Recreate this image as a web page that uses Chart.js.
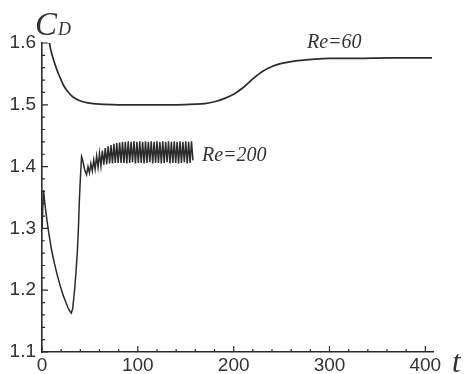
<!DOCTYPE html>
<html>
<head>
<meta charset="utf-8">
<script src="https://cdn.jsdelivr.net/npm/chart.js@4"></script>
<style>
  body { margin: 0; background: #fff; }
  #wrap { width: 465px; height: 374px; }
</style>
</head>
<body>
<div id="wrap"><canvas id="cdChart" width="465" height="374"></canvas></div>
<script>
// Re=60 curve (time, drag coefficient)
const re60T = [0, 7.5, 9, 11, 13, 15, 17.5, 20, 23, 27, 32, 39, 48, 60, 80, 100, 120, 140, 160, 170, 180, 190, 200, 210, 220, 230, 240, 250, 260, 270, 285, 300, 330, 360, 390, 407];
const re60C = [1.62, 1.600, 1.590, 1.578, 1.568, 1.559, 1.549, 1.540, 1.530, 1.521, 1.513, 1.507, 1.503, 1.501, 1.500, 1.500, 1.500, 1.500, 1.501, 1.502, 1.505, 1.510, 1.517, 1.528, 1.542, 1.554, 1.562, 1.567, 1.570, 1.572, 1.574, 1.575, 1.575, 1.576, 1.576, 1.576];

// Re=200 curve (time, drag coefficient)
const re200T = [0, 1.5, 3, 5, 7, 10, 13, 16, 19, 22, 25, 27, 29, 30.5, 32, 34, 35.5, 37, 38, 39, 40, 41.3, 42.5, 44.5,
  46.5, 48, 49.5, 51, 52.5, 54, 55.5, 57, 58.5, 60, 61.5, 63, 64.5, 66, 67.5, 69, 70.5, 72, 73.5, 75, 76.5, 78, 79.5, 81, 82.5, 84,
  85.5, 87, 88.5, 90, 91.5, 93, 94.5, 96, 97.5, 99, 100.5, 102, 103.5, 105, 106.5, 108, 109.5, 111, 112.5, 114, 115.5, 117,
  118.5, 120, 121.5, 123, 124.5, 126, 127.5, 129, 130.5, 132, 133.5, 135, 136.5, 138, 139.5, 141, 142.5, 144, 145.5, 147,
  148.5, 150, 151.5, 153, 154.5, 156, 157.5];
const re200C = [1.300, 1.362, 1.340, 1.315, 1.293, 1.265, 1.243, 1.224, 1.207, 1.192, 1.180, 1.172, 1.166, 1.163, 1.170, 1.200, 1.230, 1.265, 1.300, 1.346, 1.380, 1.416, 1.410, 1.395,
  1.387, 1.400, 1.390, 1.405, 1.393, 1.411, 1.396, 1.417, 1.399, 1.422, 1.401, 1.426, 1.403, 1.430, 1.404, 1.433, 1.405, 1.435, 1.405, 1.437, 1.406, 1.438, 1.406, 1.439, 1.406, 1.440,
  1.406, 1.440, 1.405, 1.441, 1.406, 1.440, 1.407, 1.441, 1.405, 1.440, 1.406, 1.441, 1.406, 1.440, 1.405, 1.441, 1.406, 1.440, 1.407, 1.441, 1.405, 1.440,
  1.406, 1.441, 1.406, 1.440, 1.405, 1.441, 1.406, 1.440, 1.407, 1.441, 1.405, 1.440, 1.406, 1.441, 1.406, 1.440, 1.405, 1.441, 1.406, 1.440,
  1.407, 1.441, 1.405, 1.440, 1.406, 1.441, 1.410];

// Axis ticks
const xTicks = [0, 100, 200, 300, 400];
const yTicks = [1.1, 1.2, 1.3, 1.4, 1.5, 1.6];

const ink = '#2b2b2b';
const serif = '"Liberation Serif", "DejaVu Serif", serif';

function toPoints(ts, cs) {
    return ts.map((t, i) => ({ x: t, y: cs[i] }));
}

// inward tick marks + annotations
const decorPlugin = {
    id: 'decor',
    afterDatasetsDraw(chart) {
        const ctx = chart.ctx;
        const xs = chart.scales.x;
        const ys = chart.scales.y;
        const area = chart.chartArea;
        ctx.save();
        ctx.strokeStyle = ink;
        ctx.lineWidth = 1.2;
        ctx.beginPath();
        // y ticks every 0.02
        for (let i = 0; i <= 25; i++) {
            const v = 1.1 + i * 0.02;
            const py = ys.getPixelForValue(v);
            const len = (i % 5 === 0) ? 6 : 3;
            ctx.moveTo(area.left, py);
            ctx.lineTo(area.left + len, py);
        }
        // x ticks every 20
        for (let i = 0; i <= 20; i++) {
            const px = xs.getPixelForValue(i * 20);
            const len = (i % 5 === 0) ? 6 : 3;
            ctx.moveTo(px, area.bottom);
            ctx.lineTo(px, area.bottom - len);
        }
        ctx.stroke();

        // labels
        ctx.fillStyle = '#333';
        ctx.textBaseline = 'alphabetic';
        ctx.textAlign = 'left';
        ctx.font = 'italic 33px ' + serif;
        ctx.fillText('C', 35, 35);
        ctx.font = 'italic 18px ' + serif;
        ctx.fillText('D', 58, 35);
        ctx.font = 'italic 31px ' + serif;
        ctx.fillText('t', 452, 372);
        ctx.font = 'italic 20px ' + serif;
        ctx.fillText('Re=60', 307, 48);
        ctx.fillText('Re=200', 202, 161);
        ctx.restore();
    }
};

const ctx = document.getElementById('cdChart').getContext('2d');
const cdChart = new Chart(ctx, {
    type: 'line',
    data: {
        datasets: [
            {
                label: 'Re=60',
                data: toPoints(re60T, re60C),
                borderColor: ink,
                borderWidth: 1.7,
                pointRadius: 0,
                tension: 0.3,
                fill: false
            },
            {
                label: 'Re=200',
                data: toPoints(re200T, re200C),
                borderColor: ink,
                borderWidth: 1.5,
                pointRadius: 0,
                tension: 0,
                fill: false
            }
        ]
    },
    options: {
        responsive: false,
        animation: false,
        layout: {
            padding: { top: 43, right: 32, left: 0, bottom: 0 }
        },
        plugins: {
            legend: { display: false },
            tooltip: { enabled: false }
        },
        scales: {
            x: {
                type: 'linear',
                min: 0,
                max: 408,
                afterBuildTicks: scale => {
                    scale.ticks = xTicks.map(v => ({ value: v }));
                },
                afterFit: scale => { scale.height = 22; },
                grid: { display: true, drawOnChartArea: false, drawTicks: false },
                border: { display: true, color: ink, width: 1.6 },
                ticks: {
                    padding: 2,
                    color: '#333',
                    font: { family: '"Liberation Sans", Arial, sans-serif', size: 19 },
                    callback: v => String(v)
                }
            },
            y: {
                type: 'linear',
                min: 1.1,
                max: 1.6,
                afterBuildTicks: scale => {
                    scale.ticks = yTicks.map(v => ({ value: v }));
                },
                afterFit: scale => { scale.width = 42; },
                grid: { display: true, drawOnChartArea: false, drawTicks: false },
                border: { display: true, color: ink, width: 1.6 },
                ticks: {
                    padding: 6,
                    color: '#333',
                    font: { family: '"Liberation Sans", Arial, sans-serif', size: 19 },
                    callback: v => v.toFixed(1)
                }
            }
        }
    },
    plugins: [decorPlugin]
});
</script>
</body>
</html>
